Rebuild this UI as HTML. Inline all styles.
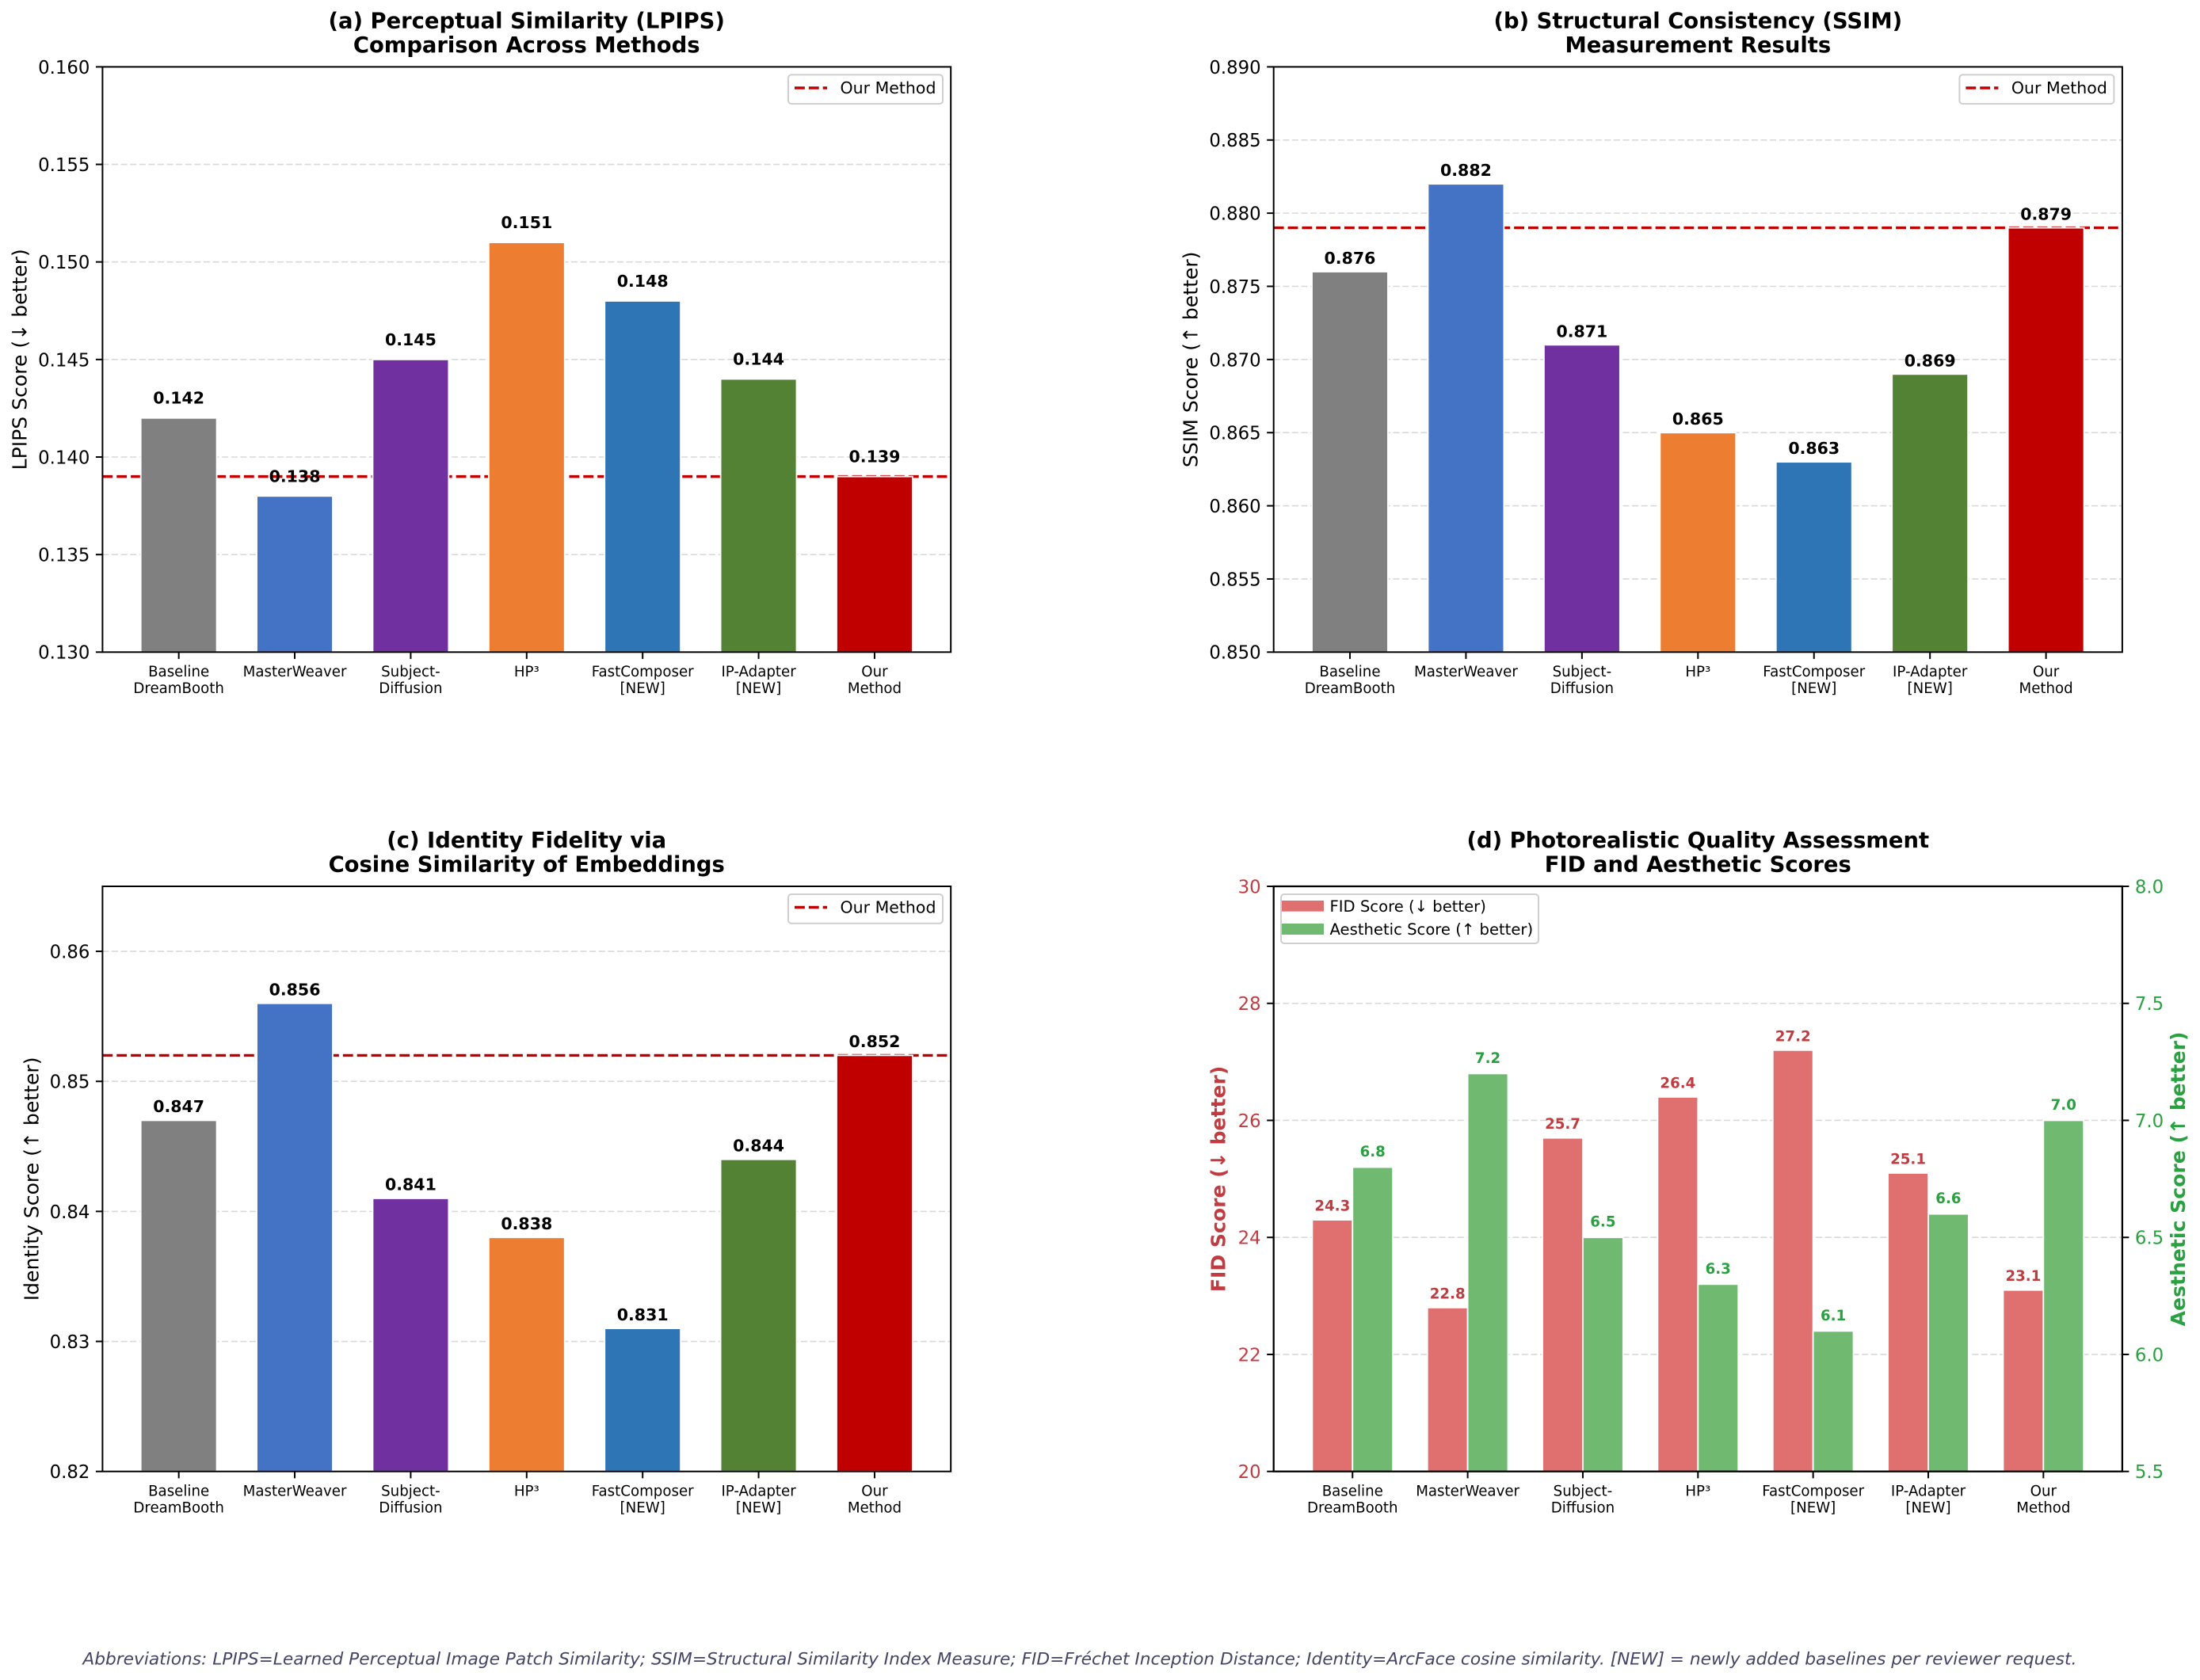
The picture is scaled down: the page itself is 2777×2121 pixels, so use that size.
<!DOCTYPE html>
<html lang="en">
<head>
<meta charset="utf-8">
<title>Method comparison charts</title>
<style>
html,body{margin:0;padding:0;background:#fff;}
svg{display:block;}
text{font-family:"DejaVu Sans","Liberation Sans",sans-serif;}
.title{font-size:27.4px;font-weight:bold;text-anchor:middle;fill:#000;}
.ylab{font-size:25.1px;text-anchor:middle;fill:#000;}
.ylab-b{font-size:25.1px;font-weight:bold;text-anchor:middle;}
.leg{font-size:20.5px;fill:#000;}
.leg-d{font-size:19.6px;fill:#000;}
.legbox{fill:#fff;stroke:#cfcfcf;stroke-width:2;}
.foot{font-size:21.7px;font-style:italic;text-anchor:middle;fill:#444466;}
</style>
</head>
<body>
<svg id="fig" xmlns="http://www.w3.org/2000/svg" width="2777" height="2121" viewBox="0 0 2777 2121">
  <rect width="2777" height="2121" fill="#fff"/>

  <g id="panel-a"></g>
  <g id="panel-b"></g>
  <g id="panel-c"></g>
  <g id="panel-d"></g>

  <text class="title" x="664.7" y="35.5">(a) Perceptual Similarity (LPIPS)</text>
  <text class="title" x="664.7" y="66">Comparison Across Methods</text>
  <text class="title" x="2143.3" y="35.5">(b) Structural Consistency (SSIM)</text>
  <text class="title" x="2143.3" y="66">Measurement Results</text>
  <text class="title" x="664.7" y="1070">(c) Identity Fidelity via</text>
  <text class="title" x="664.7" y="1100.5">Cosine Similarity of Embeddings</text>
  <text class="title" x="2143.3" y="1070">(d) Photorealistic Quality Assessment</text>
  <text class="title" x="2143.3" y="1100.5">FID and Aesthetic Scores</text>

  <text class="ylab" transform="translate(33.5 453.8) rotate(-90)">LPIPS Score (↓ better)</text>
  <text class="ylab" transform="translate(1511.7 453.8) rotate(-90)">SSIM Score (↑ better)</text>
  <text class="ylab" transform="translate(48.3 1488.4) rotate(-90)">Identity Score (↑ better)</text>
  <text class="ylab-b" fill="#c03c40" transform="translate(1546.7 1488.4) rotate(-90)">FID Score (↓ better)</text>
  <text class="ylab-b" fill="#2aa140" transform="translate(2758 1488.4) rotate(-90)">Aesthetic Score (↑ better)</text>

  <g>
    <rect class="legbox" x="995" y="94.4" width="195" height="36.7" rx="4"/>
    <line x1="1003" y1="111" x2="1044" y2="111" stroke="#c00000" stroke-width="3.4" stroke-dasharray="12.85 5"/>
    <text class="leg" x="1060.5" y="118.1">Our Method</text>
  </g>
  <g>
    <rect class="legbox" x="2473.4" y="94.4" width="195" height="36.7" rx="4"/>
    <line x1="2481.4" y1="111" x2="2522.4" y2="111" stroke="#c00000" stroke-width="3.4" stroke-dasharray="12.85 5"/>
    <text class="leg" x="2538.9" y="118.1">Our Method</text>
  </g>
  <g>
    <rect class="legbox" x="995" y="1129" width="195" height="36.7" rx="4"/>
    <line x1="1003" y1="1145.5" x2="1044" y2="1145.5" stroke="#c00000" stroke-width="3.4" stroke-dasharray="12.85 5"/>
    <text class="leg" x="1060.5" y="1152.7">Our Method</text>
  </g>
  <g>
    <rect class="legbox" x="1617" y="1129" width="325" height="62" rx="4"/>
    <rect x="1618" y="1137" width="53" height="13.7" fill="#e07070"/>
    <text class="leg-d" x="1678.5" y="1151">FID Score (↓ better)</text>
    <rect x="1618" y="1166" width="53" height="14" fill="#6fb970"/>
    <text class="leg-d" x="1678.5" y="1180">Aesthetic Score (↑ better)</text>
  </g>

  <text class="foot" x="1362.9" y="2101.7">Abbreviations: LPIPS=Learned Perceptual Image Patch Similarity; SSIM=Structural Similarity Index Measure; FID=Fréchet Inception Distance; Identity=ArcFace cosine similarity. [NEW] = newly added baselines per reviewer request.</text>
</svg>

<script>
// ---- chart data ----
const methodLabels = ['Baseline\nDreamBooth', 'MasterWeaver', 'Subject-\nDiffusion', 'HP³', 'FastComposer\n[NEW]', 'IP-Adapter\n[NEW]', 'Our\nMethod'];
const lpipsValues = [0.142, 0.138, 0.145, 0.151, 0.148, 0.144, 0.139];
const ssimValues = [0.876, 0.882, 0.871, 0.865, 0.863, 0.869, 0.879];
const identityValues = [0.847, 0.856, 0.841, 0.838, 0.831, 0.844, 0.852];
const fidValues = [24.3, 22.8, 25.7, 26.4, 27.2, 25.1, 23.1];
const aestheticValues = [6.8, 7.2, 6.5, 6.3, 6.1, 6.6, 7.0];
const lpipsTickLabels = ['0.130', '0.135', '0.140', '0.145', '0.150', '0.155', '0.160'];
const ssimTickLabels = ['0.850', '0.855', '0.860', '0.865', '0.870', '0.875', '0.880', '0.885', '0.890'];
const identityTickLabels = ['0.82', '0.83', '0.84', '0.85', '0.86'];
const fidTickLabels = ['20', '22', '24', '26', '28', '30'];
const aestheticTickLabels = ['5.5', '6.0', '6.5', '7.0', '7.5', '8.0'];
const lpipsReference = 0.139;
const ssimReference = 0.879;
const identityReference = 0.852;
// ---- styling ----
const barColors = ['#808080', '#4472c4', '#7030a0', '#ed7d31', '#2e75b6', '#548235', '#c00000'];

const SVGNS = 'http://www.w3.org/2000/svg';
function make(tag, attrs, parent, text) {
  const node = document.createElementNS(SVGNS, tag);
  for (const k in attrs) node.setAttribute(k, attrs[k]);
  if (text !== undefined) node.textContent = text;
  parent.appendChild(node);
  return node;
}
function linear(d0, d1, r0, r1) {
  return function (v) { return r0 + (v - d0) / (d1 - d0) * (r1 - r0); };
}
function drawGrid(g, prefix, labels, y, left, right) {
  labels.forEach(function (lab) {
    const v = parseFloat(lab);
    const el = make('line', {x1: left, x2: right, y1: y(v), y2: y(v), stroke: '#d9d9d9', 'stroke-width': 1.6, 'stroke-dasharray': '8 3.6'}, g);
    
    
  });
}
function drawReference(g, prefix, value, y, left, right) {
  const el = make('line', {x1: left, x2: right, y1: y(value), y2: y(value), stroke: '#c00000', 'stroke-width': 3.4, 'stroke-dasharray': '12.85 5'}, g);
  
  
}
function drawYTicks(g, prefix, labels, y, axisX, side, color) {
  labels.forEach(function (lab) {
    const v = parseFloat(lab);
    const mark = make('line', {x1: axisX, x2: axisX + side * 8.5, y1: y(v), y2: y(v), stroke: '#000', 'stroke-width': 2}, g);
    
    
    const label = make('text', {x: axisX + side * 16, y: y(v) + 8.4, 'text-anchor': side < 0 ? 'end' : 'start', 'font-size': 22.8, fill: color}, g, lab);
    
    
  });
}
function drawXTicks(g, prefix, x, bottom) {
  methodLabels.forEach(function (lab, i) {
    const mark = make('line', {x1: x(i), x2: x(i), y1: bottom, y2: bottom + 8.6, stroke: '#000', 'stroke-width': 2}, g);
    
    
    lab.split('\n').forEach(function (line, n) {
      const label = make('text', {x: x(i), y: bottom + 30.8 + n * 21, 'text-anchor': 'middle', 'font-size': 18.2, fill: '#000'}, g, line);
      
      
    });
  });
}
function drawSpines(g, prefix, left, right, top, bottom, width) {
  const el = make('rect', {x: left, y: top, width: right - left, height: bottom - top, fill: 'none', stroke: '#000', 'stroke-width': width}, g);
  
  
}
function drawBar(g, name, cx, w, y, value, base, color) {
  const el = make('rect', {x: cx - w / 2, y: y(value), width: w, height: y(base) - y(value), fill: color, stroke: '#fff', 'stroke-width': 1.8}, g);
  
  
}
function drawValue(g, name, cx, py, text, size, color) {
  const el = make('text', {x: cx, y: py, 'text-anchor': 'middle', 'font-size': size, 'font-weight': 'bold', fill: color}, g, text);
  
  
}
function singlePanel(id, prefix, values, tickLabels, reference, d0, d1, box, labelGap) {
  const g = document.getElementById(id);
  const x = linear(-0.6575, 6.6575, box.left, box.right);
  const y = linear(d0, d1, box.bottom, box.top);
  drawGrid(g, prefix, tickLabels, y, box.left, box.right);
  drawReference(g, prefix, reference, y, box.left, box.right);
  values.forEach(function (v, i) {
    drawBar(g, prefix + '-bar-' + (i + 1), x(i), 0.655 * (x(1) - x(0)), y, v, d0, barColors[i]);
  });
  values.forEach(function (v, i) {
    drawValue(g, prefix + '-value-' + (i + 1), x(i), y(v) - labelGap, v.toFixed(3), 20.5, '#000');
  });
  drawYTicks(g, prefix, tickLabels, y, box.left, -1, '#000');
  drawXTicks(g, prefix, x, box.bottom);
  drawSpines(g, prefix, box.left, box.right, box.top, box.bottom, 2);
}
function dualPanel(box) {
  const g = document.getElementById('panel-d');
  const x = linear(-0.685, 6.685, box.left, box.right);
  const yLeft = linear(20, 30, box.bottom, box.top);
  const yRight = linear(5.5, 8, box.bottom, box.top);
  const unit = x(1) - x(0);
  drawGrid(g, 'quality', fidTickLabels, yLeft, box.left, box.right);
  fidValues.forEach(function (v, i) {
    drawBar(g, 'fid-bar-' + (i + 1), x(i - 0.175), 0.35 * unit, yLeft, v, 20, '#e07070');
  });
  aestheticValues.forEach(function (v, i) {
    drawBar(g, 'aesthetic-bar-' + (i + 1), x(i + 0.175), 0.35 * unit, yRight, v, 5.5, '#6fb970');
  });
  fidValues.forEach(function (v, i) {
    drawValue(g, 'fid-value-' + (i + 1), x(i - 0.175), yLeft(v) - 11.5, v.toFixed(1), 18.2, '#c03c40');
  });
  aestheticValues.forEach(function (v, i) {
    drawValue(g, 'aesthetic-value-' + (i + 1), x(i + 0.175), yRight(v) - 13.5, v.toFixed(1), 18.2, '#2aa140');
  });
  drawYTicks(g, 'fid', fidTickLabels, yLeft, box.left, -1, '#c03c40');
  drawYTicks(g, 'aesthetic', aestheticTickLabels, yRight, box.right, 1, '#2aa140');
  drawXTicks(g, 'quality', x, box.bottom);
  drawSpines(g, 'quality', box.left, box.right, box.top, box.bottom, 2.3);
}
singlePanel('panel-a', 'lpips', lpipsValues, lpipsTickLabels, lpipsReference, 0.13, 0.16, {left: 129.4, right: 1200.2, top: 84.4, bottom: 823.3}, 18);
singlePanel('panel-b', 'ssim', ssimValues, ssimTickLabels, ssimReference, 0.85, 0.89, {left: 1607.7, right: 2678.9, top: 84.4, bottom: 823.3}, 10);
singlePanel('panel-c', 'identity', identityValues, identityTickLabels, identityReference, 0.82, 0.865, {left: 129.4, right: 1200.2, top: 1119, bottom: 1857.7}, 10.3);
dualPanel({left: 1607.7, right: 2678.9, top: 1119, bottom: 1857.7});
</script>
</body>
</html>
